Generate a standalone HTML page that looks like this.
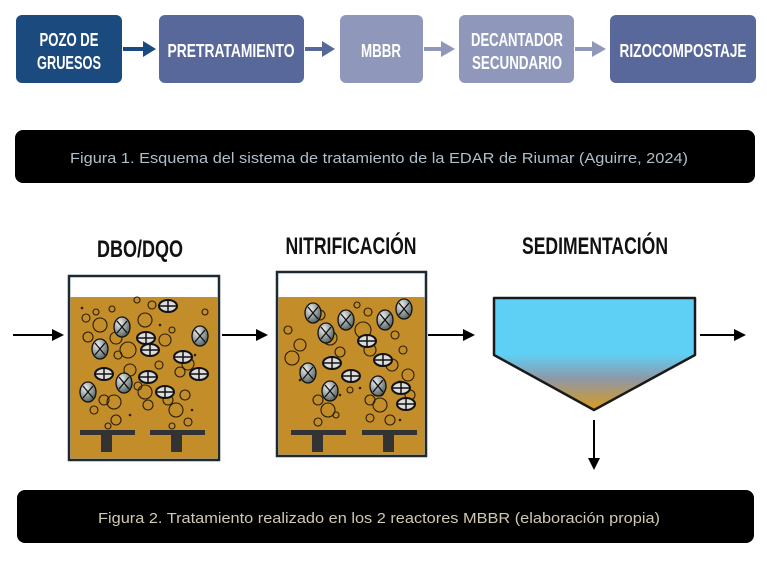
<!DOCTYPE html>
<html><head><meta charset="utf-8"><style>
body{margin:0;background:#fff;width:767px;height:568px;overflow:hidden}
svg{display:block}
.b{font-family:"Liberation Sans",sans-serif;font-weight:bold;fill:#fff;font-size:18px;text-anchor:middle}
.h{font-family:"Liberation Sans",sans-serif;font-weight:bold;fill:#111;font-size:24px;text-anchor:middle}
.c{font-family:"Liberation Sans",sans-serif;font-size:15px;text-anchor:middle}
</style></head><body>
<svg width="767" height="568" viewBox="0 0 767 568">
<defs>
<linearGradient id="sg" x1="0" y1="0" x2="0" y2="1"><stop offset="0" stop-color="#5fd0f5"/><stop offset="0.5" stop-color="#5fd0f5"/><stop offset="0.72" stop-color="#8e98a8"/><stop offset="1" stop-color="#d99a1e"/></linearGradient>
<radialGradient id="cg" cx="0.35" cy="0.3" r="0.8"><stop offset="0" stop-color="#eee"/><stop offset="1" stop-color="#455"/></radialGradient>
<g id="x1"><ellipse cx="0" cy="0" rx="8" ry="10" fill="url(#cg)" stroke="#111" stroke-width="1.3"/><path d="M-5,-6 L5,6 M5,-6 L-5,6" fill="none" stroke="#111" stroke-width="1.3"/></g>
<g id="d1"><ellipse cx="0" cy="0" rx="9" ry="6" fill="#ddd" stroke="#111" stroke-width="2"/><path d="M-8,0 H8 M0,-5 V5" stroke="#111" stroke-width="1.5"/></g>
</defs>
<!-- top flow -->
<rect x="16" y="15" width="106" height="68" rx="6" fill="#1b4a7e"/>
<text class="b" x="69" y="46" textLength="59" lengthAdjust="spacingAndGlyphs">POZO DE</text><text class="b" x="69" y="69" textLength="64" lengthAdjust="spacingAndGlyphs">GRUESOS</text>
<rect x="159" y="15" width="145" height="68" rx="6" fill="#58689a"/>
<text class="b" x="231" y="57" textLength="127" lengthAdjust="spacingAndGlyphs">PRETRATAMIENTO</text>
<rect x="340" y="15" width="83" height="68" rx="6" fill="#8f98bb"/>
<text class="b" x="381" y="57" textLength="40" lengthAdjust="spacingAndGlyphs">MBBR</text>
<rect x="459" y="15" width="115" height="68" rx="6" fill="#8f98bb"/>
<text class="b" x="517" y="46" textLength="92" lengthAdjust="spacingAndGlyphs">DECANTADOR</text><text class="b" x="517" y="69" textLength="90" lengthAdjust="spacingAndGlyphs">SECUNDARIO</text>
<rect x="610" y="15" width="146" height="68" rx="6" fill="#58689a"/>
<text class="b" x="683" y="57" textLength="127" lengthAdjust="spacingAndGlyphs">RIZOCOMPOSTAJE</text>
<g stroke-width="4">
<line x1="123" y1="49" x2="146" y2="49" stroke="#1b4a7e"/><path d="M143,41 L156,49 L143,57z" fill="#1b4a7e"/>
<line x1="305" y1="49" x2="326" y2="49" stroke="#58689a"/><path d="M322,41 L335,49 L322,57z" fill="#58689a"/>
<line x1="424" y1="49" x2="444" y2="49" stroke="#8f98bb"/><path d="M441,41 L455,49 L441,57z" fill="#8f98bb"/>
<line x1="575" y1="49" x2="595" y2="49" stroke="#8f98bb"/><path d="M592,41 L606,49 L592,57z" fill="#8f98bb"/>
</g>
<rect x="15" y="130" width="740" height="53" rx="8" fill="#000"/>
<text class="c" x="379" y="163" fill="#aebfc9" textLength="618" lengthAdjust="spacingAndGlyphs">Figura 1. Esquema del sistema de tratamiento de la EDAR de Riumar (Aguirre, 2024)</text>
<!-- headings -->
<text class="h" x="140" y="257" textLength="86" lengthAdjust="spacingAndGlyphs">DBO/DQO</text>
<text class="h" x="351" y="254" textLength="131" lengthAdjust="spacingAndGlyphs">NITRIFICACIÓN</text>
<text class="h" x="595" y="254" textLength="146" lengthAdjust="spacingAndGlyphs">SEDIMENTACIÓN</text>
<!-- tanks -->
<rect x="69" y="276" width="150" height="184" fill="#fff" stroke="#1d2a33" stroke-width="2.5"/>
<rect x="70.5" y="297" width="147" height="161.5" fill="#c38d2a"/>
<rect x="277" y="272" width="149" height="184" fill="#fff" stroke="#1d2a33" stroke-width="2.5"/>
<rect x="278.5" y="297" width="146" height="157.5" fill="#c38d2a"/>
<g fill="none" stroke="#2a1e08" stroke-width="1.1">
<circle cx="86" cy="318" r="4"/><circle cx="96" cy="312" r="3"/><circle cx="112" cy="309" r="3"/><circle cx="137" cy="300" r="3"/><circle cx="88" cy="337" r="5"/><circle cx="100" cy="325" r="7"/><circle cx="116" cy="338" r="6"/><circle cx="128" cy="350" r="8"/><circle cx="145" cy="320" r="7"/><circle cx="152" cy="305" r="4"/><circle cx="130" cy="370" r="6"/><circle cx="118" cy="355" r="4"/><circle cx="138" cy="386" r="4"/><circle cx="104" cy="400" r="5"/><circle cx="114" cy="402" r="7"/><circle cx="116" cy="420" r="5"/><circle cx="94" cy="410" r="4"/><circle cx="108" cy="426" r="3"/><circle cx="168" cy="400" r="5"/><circle cx="176" cy="410" r="7"/><circle cx="185" cy="395" r="5"/><circle cx="188" cy="422" r="4"/><circle cx="172" cy="426" r="3"/><circle cx="165" cy="340" r="6"/><circle cx="172" cy="330" r="3"/><circle cx="188" cy="364" r="6"/><circle cx="180" cy="372" r="5"/><circle cx="205" cy="312" r="3"/><circle cx="159" cy="365" r="4"/><circle cx="145" cy="392" r="7"/><circle cx="148" cy="405" r="5"/>
<circle cx="288" cy="330" r="4"/><circle cx="300" cy="345" r="6"/><circle cx="292" cy="358" r="7"/><circle cx="305" cy="370" r="5"/><circle cx="320" cy="315" r="5"/><circle cx="330" cy="338" r="7"/><circle cx="340" cy="352" r="5"/><circle cx="357" cy="305" r="3"/><circle cx="368" cy="312" r="4"/><circle cx="363" cy="330" r="8"/><circle cx="370" cy="350" r="6"/><circle cx="395" cy="335" r="4"/><circle cx="403" cy="350" r="4"/><circle cx="392" cy="365" r="6"/><circle cx="408" cy="375" r="6"/><circle cx="400" cy="385" r="4"/><circle cx="410" cy="395" r="5"/><circle cx="318" cy="400" r="5"/><circle cx="328" cy="410" r="7"/><circle cx="318" cy="422" r="4"/><circle cx="336" cy="415" r="3"/><circle cx="370" cy="400" r="5"/><circle cx="380" cy="405" r="7"/><circle cx="370" cy="418" r="4"/><circle cx="390" cy="420" r="5"/><circle cx="380" cy="392" r="4"/><circle cx="350" cy="390" r="3"/>
</g>
<g fill="#2a1e08"><circle cx="82" cy="308" r="1.3"/><circle cx="160" cy="325" r="1.3"/><circle cx="195" cy="355" r="1.3"/><circle cx="130" cy="415" r="1.3"/><circle cx="192" cy="410" r="1.3"/><circle cx="300" cy="380" r="1.3"/><circle cx="340" cy="395" r="1.3"/><circle cx="400" cy="420" r="1.3"/><circle cx="360" cy="388" r="1.3"/></g>
<use href="#x1" x="122" y="327"/><use href="#x1" x="100" y="349"/><use href="#x1" x="124" y="383"/><use href="#x1" x="88" y="392"/><use href="#x1" x="200" y="336"/>
<use href="#x1" x="313" y="313"/><use href="#x1" x="346" y="320"/><use href="#x1" x="326" y="333"/><use href="#x1" x="385" y="320"/><use href="#x1" x="404" y="309"/><use href="#x1" x="308" y="373"/><use href="#x1" x="330" y="391"/><use href="#x1" x="378" y="386"/>
<use href="#d1" x="168" y="306"/><use href="#d1" x="146" y="338"/><use href="#d1" x="150" y="350"/><use href="#d1" x="183" y="357"/><use href="#d1" x="199" y="374"/><use href="#d1" x="104" y="374"/><use href="#d1" x="148" y="377"/><use href="#d1" x="165" y="392"/>
<use href="#d1" x="367" y="341"/><use href="#d1" x="332" y="363"/><use href="#d1" x="351" y="376"/><use href="#d1" x="401" y="388"/><use href="#d1" x="406" y="404"/><use href="#d1" x="383" y="360"/>
<!-- diffusers -->
<g fill="#333"><rect x="80" y="430" width="55" height="5"/><rect x="101" y="430" width="11" height="22"/><rect x="150" y="430" width="55" height="5"/><rect x="171" y="430" width="11" height="22"/>
<rect x="291" y="430" width="55" height="5"/><rect x="312" y="430" width="11" height="22"/><rect x="362" y="430" width="55" height="5"/><rect x="383" y="430" width="11" height="22"/></g>
<!-- sedimentation -->
<path d="M494,298 H695 V355 L594,410 L494,355z" fill="url(#sg)" stroke="#1a1a1a" stroke-width="2.5" stroke-linejoin="round"/>
<!-- arrows -->
<g stroke="#000" stroke-width="2"><line x1="13" y1="335" x2="56" y2="335"/><line x1="222" y1="335" x2="260" y2="335"/><line x1="428" y1="335" x2="468" y2="335"/><line x1="700" y1="335" x2="738" y2="335"/><line x1="594" y1="420" x2="594" y2="462"/></g>
<g fill="#000"><path d="M52,329 L64,335 L52,341z"/><path d="M256,329 L268,335 L256,341z"/><path d="M463,329 L475,335 L463,341z"/><path d="M734,329 L746,335 L734,341z"/><path d="M588,458 L594,470 L600,458z"/></g>
<rect x="17" y="490" width="737" height="53" rx="8" fill="#000"/>
<text class="c" x="379" y="523" fill="#cfc8b2" textLength="562" lengthAdjust="spacingAndGlyphs">Figura 2. Tratamiento realizado en los 2 reactores MBBR (elaboración propia)</text>
</svg>
</body></html>
